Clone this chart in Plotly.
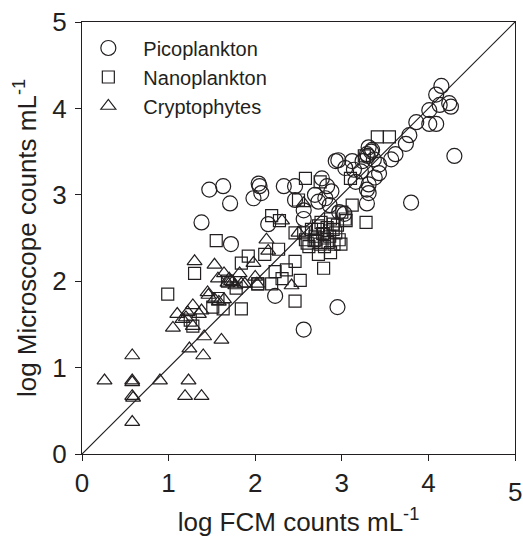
import plotly.graph_objects as go

# log10 counts per mL: flow cytometry (x) versus microscope (y)
pico_fcm = [4.15, 4.09, 4.13, 4.24, 4.26, 4.01, 4.09, 4.01, 3.86, 3.78, 3.74, 3.62, 3.57,
            4.30, 3.80, 3.31, 3.29, 3.34, 3.37, 3.43, 3.43, 3.38, 3.31, 3.29, 3.31, 3.29,
            3.14, 3.04, 3.12, 2.93, 2.96, 3.24, 3.22, 3.16, 2.77, 2.83, 2.88, 2.81, 2.86,
            2.73, 2.97, 3.03, 2.69, 2.46, 2.46, 2.56, 2.56, 2.33, 2.15, 2.04, 2.05, 2.07,
            1.98, 1.47, 1.63, 1.71, 1.38, 1.72, 2.23, 2.95, 2.56, 3.30, 3.35]
pico_mic = [4.26, 4.16, 4.04, 4.06, 4.02, 3.98, 3.82, 3.82, 3.84, 3.69, 3.59, 3.47, 3.41,
            3.45, 2.91, 3.55, 3.47, 3.50, 3.41, 3.35, 3.25, 3.20, 3.12, 3.06, 3.02, 2.90,
            3.29, 3.31, 3.39, 3.39, 3.40, 3.39, 3.27, 3.15, 3.19, 3.10, 3.04, 2.96, 2.88,
            2.92, 2.80, 2.78, 3.00, 3.10, 2.94, 2.82, 2.72, 3.10, 2.66, 3.13, 3.10, 3.02,
            2.96, 3.06, 3.10, 2.90, 2.68, 2.43, 1.83, 1.70, 1.44, 3.45, 3.52]

nano_fcm = [3.41, 3.55, 3.26, 3.10, 3.12, 3.28, 2.58, 2.75, 2.50, 3.00, 3.04, 2.19, 2.28,
            1.55, 0.99, 1.30, 1.84, 1.92, 2.11, 2.03, 2.27, 2.46, 2.36, 2.23, 2.31, 2.52,
            2.03, 2.19, 2.46, 1.84, 1.63, 1.51, 2.46, 2.56, 2.73, 2.69, 2.75, 2.73, 2.79,
            2.87, 2.93, 2.97, 2.91, 2.99, 2.87, 2.58, 2.62, 1.28, 1.25, 1.57, 2.83, 2.80,
            2.65, 2.70, 2.90, 2.60, 1.68, 1.78, 2.72, 2.78, 2.84, 2.90, 2.95, 2.80, 2.68,
            2.86, 2.76, 3.05]
nano_mic = [3.67, 3.67, 3.45, 3.19, 2.88, 2.68, 3.19, 3.15, 2.94, 2.80, 2.72, 2.76, 2.70,
            2.47, 1.85, 2.09, 2.21, 2.29, 2.31, 1.97, 2.37, 2.23, 2.13, 2.11, 2.03, 2.01,
            1.97, 1.97, 1.77, 1.68, 1.68, 1.70, 2.56, 2.56, 2.64, 2.52, 2.43, 2.31, 2.15,
            2.72, 2.56, 2.48, 2.43, 2.43, 2.33, 2.48, 2.40, 1.48, 1.55, 1.80, 2.62, 2.50,
            2.60, 2.48, 2.66, 2.44, 2.00, 1.92, 2.60, 2.55, 2.45, 2.60, 2.65, 2.40, 2.47,
            2.52, 2.68, 2.70]

crypto_fcm = [0.26, 0.58, 0.58, 0.58, 0.59, 0.58, 0.58, 0.90, 1.23, 1.19, 1.38, 1.24, 1.40,
              1.41, 1.61, 1.05, 1.10, 1.22, 1.28, 1.16, 1.28, 1.38, 1.45, 1.46, 1.53, 1.64,
              1.58, 1.30, 1.53, 1.57, 1.64, 1.70, 1.74, 1.77, 1.82, 1.84, 2.00, 2.02, 1.98,
              2.13, 2.15, 2.31, 2.42, 2.56, 2.50, 1.88, 1.68, 1.72, 1.35, 1.20]
crypto_mic = [0.85, 0.85, 0.83, 0.67, 0.65, 1.14, 0.37, 0.85, 0.85, 0.67, 0.67, 1.22, 1.14,
              1.36, 1.32, 1.46, 1.62, 1.64, 1.48, 1.56, 1.72, 1.66, 1.87, 1.84, 1.79, 1.79,
              1.76, 2.23, 2.19, 2.03, 2.09, 2.03, 1.99, 1.95, 2.09, 1.97, 2.05, 1.97, 2.21,
              2.48, 2.35, 2.70, 1.95, 2.90, 2.56, 1.97, 1.98, 2.00, 1.62, 1.58]

one_to_one = [0, 5]
tick_vals = [0, 1, 2, 3, 4, 5]

INK = "#231f20"
FONT = "Liberation Sans, Arial, sans-serif"

fig = go.Figure()

fig.add_trace(go.Scatter(x=one_to_one, y=one_to_one, mode="lines",
                         line=dict(color=INK, width=1.2), showlegend=False,
                         hoverinfo="skip"))

series = [
    ("Picoplankton", pico_fcm, pico_mic, "circle-open", 15),
    ("Nanoplankton", nano_fcm, nano_mic, "square-open", 12),
    ("Cryptophytes", crypto_fcm, crypto_mic, "triangle-up-open", 13),
]
for name, xs, ys, sym, size in series:
    fig.add_trace(go.Scatter(
        x=xs, y=ys, mode="markers", name=name,
        marker=dict(symbol=sym, size=size, color=INK,
                    line=dict(color=INK, width=1.2)),
    ))

axis_common = dict(
    range=[0, 5], tickvals=tick_vals, showgrid=False, zeroline=False,
    showline=True, linecolor=INK, linewidth=1.2, mirror=True,
    ticks="outside", ticklen=6, tickwidth=1.2, tickcolor=INK,
    tickfont=dict(size=26, color=INK, family=FONT), automargin=False,
)

fig.update_xaxes(**axis_common,
                 ticktext=["0", "1", "2", "3", "4", " "],
                 title=dict(text="log FCM counts mL<sup>-1</sup>",
                            font=dict(size=26, color=INK, family=FONT), standoff=16))
fig.update_yaxes(**axis_common,
                 ticktext=["0", "1", "2", "3", "4", "5"],
                 ticklabelstandoff=3,
                 title=dict(text="log Microscope counts mL<sup>-1</sup>",
                            font=dict(size=26, color=INK, family=FONT), standoff=8))

# the last x tick label sits a little below the others
fig.add_annotation(x=5, y=0, xref="x", yref="paper", text="5", showarrow=False,
                   yanchor="middle", yshift=-38,
                   font=dict(size=26, color=INK, family=FONT))

fig.update_layout(
    width=523, height=537,
    margin=dict(l=82, r=8, t=22, b=83),
    paper_bgcolor="white", plot_bgcolor="white",
    font=dict(family=FONT, color=INK),
    legend=dict(x=-0.02, y=0.985, xanchor="left", yanchor="top",
                bgcolor="rgba(0,0,0,0)", borderwidth=0,
                font=dict(size=20, color=INK, family=FONT),
                itemwidth=60, tracegroupgap=0),
    showlegend=True,
)

fig.write_html("out.html")
